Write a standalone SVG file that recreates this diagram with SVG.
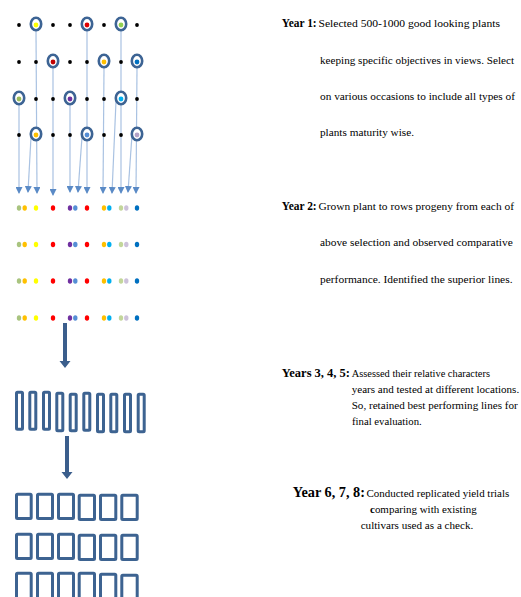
<svg xmlns="http://www.w3.org/2000/svg" width="521" height="597" viewBox="0 0 521 597">
<style>
.bd{fill:#000}
.ring{fill:#fff;stroke:#3d6494;stroke-width:2.6}
.ln{stroke:#a9c2e2;stroke-width:1.2;fill:none}
.box{fill:none;stroke:#3d6391;stroke-width:3}
.big{fill:#3b5e8c}
text{font-family:"Liberation Serif","Times New Roman",serif;fill:#000}
.b{font-weight:bold}
</style>
<defs>
<marker id="ah" markerWidth="7" markerHeight="7" refX="6" refY="3.5" orient="auto" markerUnits="userSpaceOnUse">
<path d="M0,0 L7,3.5 L0,7 z" fill="#5a8ac6"/>
</marker>
</defs>
<rect width="521" height="597" fill="#fff"/>

<g id="connectors">
<line class="ln" x1="36" y1="31" x2="37" y2="193" marker-end="url(#ah)"/>
<line class="ln" x1="87" y1="31" x2="87" y2="193" marker-end="url(#ah)"/>
<line class="ln" x1="121" y1="31" x2="121" y2="193" marker-end="url(#ah)"/>
<line class="ln" x1="53" y1="68" x2="53" y2="195" marker-end="url(#ah)"/>
<line class="ln" x1="104" y1="68" x2="103" y2="193" marker-end="url(#ah)"/>
<line class="ln" x1="137" y1="68" x2="136" y2="193" marker-end="url(#ah)"/>
<line class="ln" x1="19" y1="105" x2="19" y2="193" marker-end="url(#ah)"/>
<line class="ln" x1="70" y1="105" x2="70" y2="192" marker-end="url(#ah)"/>
<line class="ln" x1="116" y1="101" x2="112" y2="193" marker-end="url(#ah)"/>
<line class="ln" x1="31" y1="137" x2="28" y2="192" marker-end="url(#ah)"/>
<line class="ln" x1="82" y1="137" x2="78" y2="192" marker-end="url(#ah)"/>
<line class="ln" x1="132" y1="135" x2="128" y2="192" marker-end="url(#ah)"/>
<path class="big" d="M63,323 h4 v38 h3.5 l-5.5,7 l-5.5,-7 h3.5 z"/>
<path class="big" d="M65,436 h4 v36 h3.5 l-5.5,7 l-5.5,-7 h3.5 z"/>
</g>

<g id="plants">
<g id="row1">
<circle class="bd" cx="19" cy="25" r="1.9"/>
<ellipse class="ring" cx="36" cy="24" rx="5.2" ry="6.2"/><circle cx="36" cy="25" r="2.4" fill="#ffff00"/>
<circle class="bd" cx="53" cy="25" r="1.9"/>
<circle class="bd" cx="70" cy="25" r="1.9"/>
<ellipse class="ring" cx="87" cy="24" rx="5.2" ry="6.2"/><circle cx="87" cy="25" r="2.4" fill="#e00000"/>
<circle class="bd" cx="104" cy="25" r="1.9"/>
<ellipse class="ring" cx="121" cy="24" rx="5.2" ry="6.2"/><circle cx="121" cy="25" r="2.4" fill="#92d050"/>
<circle class="bd" cx="137" cy="25" r="1.9"/>
</g>
<g id="row2">
<circle class="bd" cx="19" cy="62" r="1.9"/>
<circle class="bd" cx="36" cy="62" r="1.9"/>
<ellipse class="ring" cx="53" cy="61" rx="5.2" ry="6.2"/><circle cx="53" cy="62" r="2.4" fill="#c00000"/>
<circle class="bd" cx="70" cy="62" r="1.9"/>
<circle class="bd" cx="87" cy="62" r="1.9"/>
<ellipse class="ring" cx="104" cy="61" rx="5.2" ry="6.2"/><circle cx="104" cy="62" r="2.4" fill="#ffc000"/>
<circle class="bd" cx="121" cy="62" r="1.9"/>
<ellipse class="ring" cx="137" cy="61" rx="5.2" ry="6.2"/><circle cx="137" cy="62" r="2.4" fill="#0070c0"/>
</g>
<g id="row3">
<ellipse class="ring" cx="19" cy="98" rx="5.2" ry="6.2"/><circle cx="19" cy="99" r="2.4" fill="#9bbb59"/>
<circle class="bd" cx="36" cy="99" r="1.9"/>
<circle class="bd" cx="53" cy="99" r="1.9"/>
<ellipse class="ring" cx="70" cy="98" rx="5.2" ry="6.2"/><circle cx="70" cy="99" r="2.4" fill="#7030a0"/>
<circle class="bd" cx="87" cy="99" r="1.9"/>
<circle class="bd" cx="104" cy="99" r="1.9"/>
<ellipse class="ring" cx="121" cy="98" rx="5.2" ry="6.2"/><circle cx="121" cy="99" r="2.4" fill="#00b0f0"/>
<circle class="bd" cx="137" cy="99" r="1.9"/>
</g>
<g id="row4">
<circle class="bd" cx="19" cy="135" r="1.9"/>
<ellipse class="ring" cx="36" cy="134" rx="5.2" ry="6.2"/><circle cx="36" cy="135" r="2.4" fill="#ffc000"/>
<circle class="bd" cx="53" cy="135" r="1.9"/>
<circle class="bd" cx="70" cy="135" r="1.9"/>
<ellipse class="ring" cx="87" cy="134" rx="5.2" ry="6.2"/><circle cx="87" cy="135" r="2.4" fill="#558ed5"/>
<circle class="bd" cx="104" cy="135" r="1.9"/>
<circle class="bd" cx="121" cy="135" r="1.9"/>
<ellipse class="ring" cx="137" cy="134" rx="5.2" ry="6.2"/><circle cx="137" cy="135" r="2.4" fill="#b3a2c7"/>
</g>
</g>

<defs>
<g id="prow">
<ellipse cx="19" cy="0" rx="2.2" ry="2.7" fill="#a9c47f"/>
<ellipse cx="24.7" cy="0" rx="2.2" ry="2.7" fill="#ffc000"/>
<ellipse cx="36" cy="0" rx="2.2" ry="2.7" fill="#ffff00"/>
<ellipse cx="53" cy="0" rx="2.2" ry="2.7" fill="#ff0000"/>
<ellipse cx="70" cy="0" rx="2.2" ry="2.7" fill="#7030a0"/>
<ellipse cx="75.3" cy="0" rx="2.2" ry="2.7" fill="#558ed5"/>
<ellipse cx="87" cy="0" rx="2.2" ry="2.7" fill="#ff0000"/>
<ellipse cx="104" cy="0" rx="2.2" ry="2.7" fill="#ffc000"/>
<ellipse cx="109.3" cy="0" rx="2.2" ry="2.7" fill="#00b0f0"/>
<ellipse cx="121" cy="0" rx="2.2" ry="2.7" fill="#c3d69b"/>
<ellipse cx="126.3" cy="0" rx="2.2" ry="2.7" fill="#ccc1da"/>
<ellipse cx="137" cy="0" rx="2.2" ry="2.7" fill="#0070c0"/>
</g>
</defs>
<g id="progeny">
<use href="#prow" y="208"/>
<use href="#prow" y="244.5"/>
<use href="#prow" y="281"/>
<use href="#prow" y="318"/>
</g>

<g id="lines-plots">
<rect class="box" x="16.5" y="392.2" width="6" height="37" rx="1"/>
<rect class="box" x="29.8" y="392.2" width="6" height="37" rx="1"/>
<rect class="box" x="43.5" y="392.2" width="6" height="37" rx="1"/>
<rect class="box" x="56.8" y="393.2" width="6" height="37.5" rx="1"/>
<rect class="box" x="70.2" y="394.2" width="6" height="36.5" rx="1"/>
<rect class="box" x="83.8" y="393.2" width="6" height="37" rx="1"/>
<rect class="box" x="97.5" y="394.2" width="6" height="37.5" rx="1"/>
<rect class="box" x="110.8" y="394.2" width="6" height="37.5" rx="1"/>
<rect class="box" x="124.5" y="394.2" width="6" height="37.5" rx="1"/>
<rect class="box" x="138.2" y="394.2" width="6" height="37.5" rx="1"/>
</g>

<g id="trial-plots">
<rect class="box" x="16.5" y="494.2" width="14.7" height="24.3" rx="1"/>
<rect class="box" x="37.5" y="494.2" width="15" height="24.3" rx="1"/>
<rect class="box" x="58.5" y="494.2" width="15" height="24.3" rx="1"/>
<rect class="box" x="79.2" y="495.2" width="15.3" height="24.3" rx="1"/>
<rect class="box" x="100.5" y="495.2" width="15.3" height="24.3" rx="1"/>
<rect class="box" x="121.8" y="495.2" width="15.4" height="24.3" rx="1"/>
<rect class="box" x="16.5" y="534.2" width="14.7" height="24.3" rx="1"/>
<rect class="box" x="37.5" y="534.2" width="15" height="24.3" rx="1"/>
<rect class="box" x="58.5" y="534.2" width="15" height="24.3" rx="1"/>
<rect class="box" x="79.2" y="535.2" width="15.3" height="24.3" rx="1"/>
<rect class="box" x="100.5" y="535.2" width="15.3" height="24.3" rx="1"/>
<rect class="box" x="121.8" y="535.2" width="15.4" height="24.3" rx="1"/>
<rect class="box" x="16.5" y="573.2" width="14.7" height="30" rx="1"/>
<rect class="box" x="37.5" y="573.2" width="15" height="30" rx="1"/>
<rect class="box" x="58.5" y="573.2" width="15" height="30" rx="1"/>
<rect class="box" x="79.2" y="573.2" width="15.3" height="30" rx="1"/>
<rect class="box" x="100.5" y="574.2" width="15.3" height="30" rx="1"/>
<rect class="box" x="121.8" y="575.2" width="15.4" height="30" rx="1"/>
</g>

<g id="year1">
<text class="b" x="281.7" y="27" font-size="12" textLength="35" lengthAdjust="spacingAndGlyphs">Year 1:</text>
<text x="318.5" y="27" font-size="11.2" textLength="181.5" lengthAdjust="spacingAndGlyphs">Selected 500-1000 good looking plants</text>
<text x="320" y="64" font-size="11.2" textLength="194" lengthAdjust="spacingAndGlyphs">keeping specific objectives in views. Select</text>
<text x="320" y="100" font-size="11.2" textLength="195" lengthAdjust="spacingAndGlyphs">on various occasions to include all types of</text>
<text x="320" y="136" font-size="11.2" textLength="94" lengthAdjust="spacingAndGlyphs">plants maturity wise.</text>
</g>

<g id="year2">
<text class="b" x="281.7" y="210" font-size="12" textLength="35" lengthAdjust="spacingAndGlyphs">Year 2:</text>
<text x="318.5" y="210" font-size="11.2" textLength="195.5" lengthAdjust="spacingAndGlyphs">Grown plant to rows progeny from each of</text>
<text x="320" y="246" font-size="11.2" textLength="192.7" lengthAdjust="spacingAndGlyphs">above selection and observed comparative</text>
<text x="320" y="283" font-size="11.2" textLength="192.5" lengthAdjust="spacingAndGlyphs">performance. Identified the superior lines.</text>
</g>

<g id="year345">
<text class="b" x="281.7" y="377" font-size="13.5" textLength="68.3" lengthAdjust="spacingAndGlyphs">Years 3, 4, 5:</text>
<text x="351.7" y="377" font-size="10.3" textLength="138.3" lengthAdjust="spacingAndGlyphs">Assessed their relative characters</text>
<text x="351.7" y="393" font-size="10.3" textLength="167.5" lengthAdjust="spacingAndGlyphs">years and tested at different locations.</text>
<text x="351.7" y="409" font-size="10.3" textLength="166" lengthAdjust="spacingAndGlyphs">So, retained best performing lines for</text>
<text x="352" y="425" font-size="10.3" textLength="69.7" lengthAdjust="spacingAndGlyphs">final evaluation.</text>
</g>

<g id="year678">
<text class="b" x="292.7" y="497" font-size="14" textLength="72.3" lengthAdjust="spacingAndGlyphs">Year 6, 7, 8:</text>
<text x="366.5" y="497" font-size="11" textLength="142.8" lengthAdjust="spacingAndGlyphs">Conducted replicated yield trials</text>
<text x="370" y="513" font-size="11" textLength="106.7" lengthAdjust="spacingAndGlyphs"><tspan font-weight="bold">c</tspan>omparing with existing</text>
<text x="360.7" y="529" font-size="11" textLength="112.6" lengthAdjust="spacingAndGlyphs">cultivars used as a check.</text>
</g>
</svg>
